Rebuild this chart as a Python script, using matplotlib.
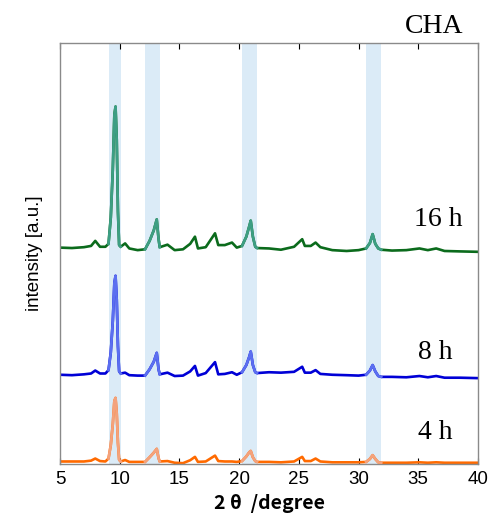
import numpy as np
import matplotlib
matplotlib.use('Agg')
import matplotlib.pyplot as plt

# 2theta positions (shared by all three patterns)
two_theta = [5.0, 6.0, 7.0, 7.6, 7.95, 8.35, 8.8, 9.06, 9.25, 9.42, 9.55, 9.65, 9.75, 9.85, 9.95, 10.08,
             10.45, 10.8, 11.5, 12.12, 12.5, 12.85, 13.1, 13.25, 13.35, 14.0, 14.6, 15.3, 15.9, 16.3,
             16.55, 17.2, 17.98, 18.25, 18.8, 19.4, 19.8, 20.24, 20.6, 20.85, 20.97, 21.15, 21.35, 21.5,
             22.5, 23.5, 24.6, 25.28, 25.5, 26.0, 26.4, 26.8, 27.8, 29.0, 30.0, 30.63, 30.95, 31.18,
             31.4, 31.65, 31.9, 32.8, 34.0, 35.1, 35.8, 36.5, 37.2, 38.5, 40.0]

int_16h = [51.4, 51.3, 51.5, 51.8, 53.0, 51.6, 51.6, 52.3, 58.5, 70.0, 83.0, 84.9, 77.0, 60.0, 52.0, 51.6,
           52.4, 51.2, 50.8, 51.0, 53.0, 55.5, 58.1, 53.5, 51.5, 52.1, 50.8, 51.0, 52.3, 54.0,
           51.2, 51.5, 54.8, 52.0, 52.0, 52.6, 51.4, 51.8, 54.0, 56.5, 57.8, 54.0, 51.6, 51.3,
           51.2, 50.9, 51.6, 53.4, 51.8, 51.8, 52.6, 51.5, 50.8, 50.6, 50.8, 51.2, 52.5, 54.6,
           52.3, 51.2, 50.9, 50.7, 50.8, 51.2, 50.8, 51.2, 50.6, 50.5, 50.4]

int_8h = [21.2, 21.1, 21.3, 21.5, 22.2, 21.5, 21.5, 22.3, 26.5, 34.0, 43.0, 44.7, 39.0, 28.0, 22.0, 21.5,
          21.7, 21.1, 21.0, 21.0, 22.5, 24.3, 26.4, 22.5, 21.3, 21.7, 20.9, 21.0, 22.0, 23.3,
          21.0, 21.6, 24.2, 21.3, 21.4, 21.8, 21.2, 21.8, 23.5, 25.5, 26.7, 23.5, 21.8, 21.6,
          21.8, 21.7, 21.9, 23.1, 21.7, 21.7, 22.3, 21.4, 21.2, 21.1, 21.0, 21.2, 22.2, 23.5,
          22.0, 20.9, 20.7, 20.7, 20.6, 20.9, 20.6, 20.9, 20.5, 20.5, 20.4]

int_4h = [0.6, 0.6, 0.6, 0.8, 1.3, 0.7, 0.6, 1.3, 4.5, 9.5, 15.0, 15.7, 12.0, 5.0, 1.0, 0.6,
          0.95, 0.5, 0.5, 0.5, 1.6, 2.7, 3.6, 1.4, 0.6, 0.7, 0.3, 0.2, 0.9, 1.7,
          0.5, 0.6, 2.0, 0.7, 0.6, 0.6, 0.5, 0.7, 1.8, 2.8, 3.1, 1.6, 0.7, 0.5,
          0.5, 0.4, 0.6, 1.7, 0.7, 0.7, 1.3, 0.6, 0.4, 0.4, 0.4, 0.5, 1.2, 2.1,
          1.2, 0.4, 0.3, 0.3, 0.3, 0.4, 0.3, 0.4, 0.3, 0.3, 0.3]

# CHA reflections highlighted
bands = [(9.06, 10.08), (12.12, 13.35), (20.24, 21.5), (30.63, 31.9)]

series = [
    ('16 h', int_16h, '#0b6b1c', '#3d9e84'),
    ('8 h', int_8h, '#0000d6', '#5b6ff0'),
    ('4 h', int_4h, '#ff6a00', '#f4a27c'),
]
label_pos = {'16 h': (38.7, 58.0), '8 h': (37.9, 26.4), '4 h': (37.9, 7.4)}

fig = plt.figure(figsize=(4.92, 5.15), dpi=100)
ax = fig.add_axes([0.122, 0.099, 0.8495, 0.8175])

for lo, hi in bands:
    ax.axvspan(lo, hi, color='#dbebf7', lw=0, zorder=0)

x = np.array(two_theta)
for name, vals, col, light in series:
    y = np.array(vals)
    ax.plot(x, y, color=col, lw=1.9, zorder=2, solid_joinstyle='round')
    for lo, hi in bands:
        m = (x >= lo - 1e-9) & (x <= hi + 1e-9)
        ax.plot(x[m], y[m], color=light, lw=1.9, zorder=3, solid_joinstyle='round')
    tx, ty = label_pos[name]
    ax.text(tx, ty, name, ha='right', va='center', fontsize=20, family='Liberation Serif')

fig.text(0.941, 0.948, 'CHA', ha='right', va='center', fontsize=20, family='Liberation Serif')

ax.set_xlim(5, 40)
ax.set_ylim(0, 100)
ax.set_xticks(np.arange(5, 41, 5))
ax.set_yticks([])
ax.tick_params(axis='x', direction='in', top=True, bottom=True, length=4, width=0.8,
               labelsize=13.5, pad=5)
for lab in ax.get_xticklabels():
    lab.set_family('Liberation Sans')
for s in ax.spines.values():
    s.set_color('#8a8a8a')
    s.set_linewidth(1.0)

ax.set_ylabel('intensity [a.u.]', fontsize=13.5, family='Liberation Sans', labelpad=12)
ax.set_xlabel('2 θ  /degree', fontsize=14, fontweight='bold',
              family=['Noto Sans CJK JP', 'DejaVu Sans'], labelpad=4)

fig.savefig('out.png', dpi=100)
